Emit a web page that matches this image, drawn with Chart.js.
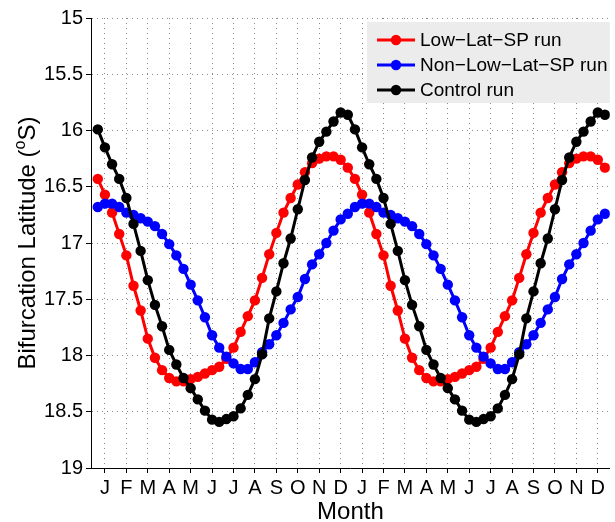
<!DOCTYPE html>
<html>
<head>
<meta charset="utf-8">
<script src="https://cdn.jsdelivr.net/npm/chart.js@4.4.1/dist/chart.umd.min.js"></script>
<style>
  html, body { margin: 0; padding: 0; background: #ffffff; }
  #c { display: block; }
</style>
</head>
<body>
<canvas id="c" width="615" height="522"></canvas>
<script>
// Month initials for the two-year axis
const monthLabels = ['J', 'F', 'M', 'A', 'M', 'J', 'J', 'A', 'S', 'O', 'N', 'D'];
const xTickLabels = monthLabels.concat(monthLabels);

// Y axis range (degrees south, drawn with 15 on top)
const yMin = 15;
const yMax = 19;
const yStep = 0.5;

// Dekad-mean bifurcation latitude (3 values per month, Jan..Dec)
const lowLatCycle = [
  16.43, 16.57, 16.73, 16.92, 17.11, 17.38, 17.60, 17.85, 18.02,
  18.13, 18.20, 18.23, 18.23, 18.21, 18.19, 18.16, 18.13, 18.10,
  18.03, 17.93, 17.79, 17.65, 17.51, 17.31, 17.10, 16.91, 16.73,
  16.60, 16.48, 16.37, 16.29, 16.25, 16.23, 16.23, 16.26, 16.33
];
const nonLowLatCycle = [
  16.68, 16.65, 16.65, 16.68, 16.73, 16.75, 16.78, 16.81, 16.85,
  16.92, 17.01, 17.11, 17.23, 17.37, 17.51, 17.66, 17.82, 17.93,
  18.01, 18.07, 18.12, 18.12, 18.06, 17.97, 17.90, 17.82, 17.71,
  17.59, 17.48, 17.32, 17.19, 17.10, 17.00, 16.89, 16.79, 16.74
];
const controlCycle = [
  15.99, 16.15, 16.30, 16.43, 16.60, 16.83, 17.07, 17.33, 17.55,
  17.74, 17.95, 18.08, 18.20, 18.29, 18.39, 18.49, 18.57, 18.59,
  18.565, 18.54, 18.47, 18.35, 18.21, 17.99, 17.67, 17.43, 17.18,
  16.96, 16.70, 16.44, 16.24, 16.10, 16.01, 15.92, 15.84, 15.86
];

const seriesNames = ['Low\u2212Lat\u2212SP run', 'Non\u2212Low\u2212Lat\u2212SP run', 'Control run'];
const seriesColors = ['#ff0000', '#0000ff', '#000000'];

// The annual cycle is shown twice; x is time in months (dekad centres)
function toPoints(cycle) {
  const values = cycle.concat(cycle);
  return values.map((v, i) => ({ x: (i + 0.5) / 3, y: v }));
}

const FONT = '"Liberation Sans", Arial, Helvetica, sans-serif';
const MARKER_R = 5.2;

const decorations = {
  id: 'decorations',
  afterDraw(chart) {
    const ctx = chart.ctx;
    const a = chart.chartArea;
    ctx.save();
    ctx.fillStyle = '#000';

    // x axis title
    ctx.font = '24px ' + FONT;
    ctx.textAlign = 'center';
    ctx.textBaseline = 'alphabetic';
    ctx.fillText('Month', (a.left + a.right) / 2, 519);

    // y axis title with superscript degree "o"
    ctx.save();
    ctx.translate(35, (a.top + a.bottom) / 2);
    ctx.rotate(-Math.PI / 2);
    ctx.textAlign = 'left';
    const head = 'Bifurcation Latitude (';
    const sup = 'o';
    const tail = 'S)';
    ctx.font = '24px ' + FONT;
    const wHead = ctx.measureText(head).width;
    const wTail = ctx.measureText(tail).width;
    ctx.font = '16px ' + FONT;
    const wSup = ctx.measureText(sup).width;
    let x0 = -(wHead + wSup + wTail) / 2;
    ctx.font = '24px ' + FONT;
    ctx.fillText(head, x0, 0);
    ctx.font = '16px ' + FONT;
    ctx.fillText(sup, x0 + wHead, -10);
    ctx.font = '24px ' + FONT;
    ctx.fillText(tail, x0 + wHead + wSup, 0);
    ctx.restore();

    // legend box
    const bx = 367, by = 22, bw = a.right - 367, bh = 81;
    ctx.fillStyle = '#ececec';
    ctx.fillRect(bx, by, bw, bh);
    const rowY = [40, 65, 90];
    chart.data.datasets.forEach((ds, i) => {
      const y = rowY[i];
      ctx.strokeStyle = ds.borderColor;
      ctx.lineWidth = 3;
      ctx.beginPath();
      ctx.moveTo(377, y);
      ctx.lineTo(415, y);
      ctx.stroke();
      ctx.fillStyle = ds.borderColor;
      ctx.beginPath();
      ctx.arc(396, y, MARKER_R, 0, Math.PI * 2);
      ctx.fill();
      ctx.fillStyle = '#000';
      ctx.font = '19px ' + FONT;
      ctx.textAlign = 'left';
      ctx.textBaseline = 'middle';
      ctx.fillText(ds.label, 420, y + 1);
    });
    ctx.restore();
  }
};

const datasets = [lowLatCycle, nonLowLatCycle, controlCycle].map((cycle, i) => ({
  label: seriesNames[i],
  data: toPoints(cycle),
  borderColor: seriesColors[i],
  backgroundColor: seriesColors[i],
  pointBackgroundColor: seriesColors[i],
  pointBorderWidth: 0,
  pointRadius: MARKER_R,
  borderWidth: 3,
  tension: 0,
  order: 3 - i
}));

const gridStyle = {
  color: '#8a8a8a',
  lineWidth: 1,
  tickLength: 5,
  tickColor: '#000',
  tickBorderDash: [],
  drawTicks: true
};
const axisBorder = { display: true, color: '#000', width: 1, dash: [1, 4] };

new Chart(document.getElementById('c'), {
  type: 'line',
  data: { datasets },
  options: {
    responsive: false,
    animation: false,
    devicePixelRatio: 1,
    layout: { padding: { top: 18, right: 4, left: 0, bottom: 0 } },
    plugins: { legend: { display: false }, tooltip: { enabled: false } },
    scales: {
      x: {
        type: 'linear',
        min: -0.15,
        max: 24.06,
        afterBuildTicks: (s) => { s.ticks = xTickLabels.map((_, i) => ({ value: i + 0.5 })); },
        afterFit: (s) => { s.height = 54; },
        ticks: {
          autoSkip: false,
          maxRotation: 0,
          color: '#000',
          padding: 3,
          font: { family: FONT, size: 20 },
          callback: (v, i) => xTickLabels[i]
        },
        grid: gridStyle,
        border: axisBorder
      },
      y: {
        reverse: true,
        min: yMin,
        max: yMax,
        afterFit: (s) => { s.width = 91; },
        ticks: {
          stepSize: yStep,
          color: '#000',
          padding: 3,
          font: { family: FONT, size: 20 },
          callback: (v) => String(v)
        },
        grid: gridStyle,
        border: axisBorder
      }
    }
  },
  plugins: [decorations]
});
</script>
</body>
</html>
